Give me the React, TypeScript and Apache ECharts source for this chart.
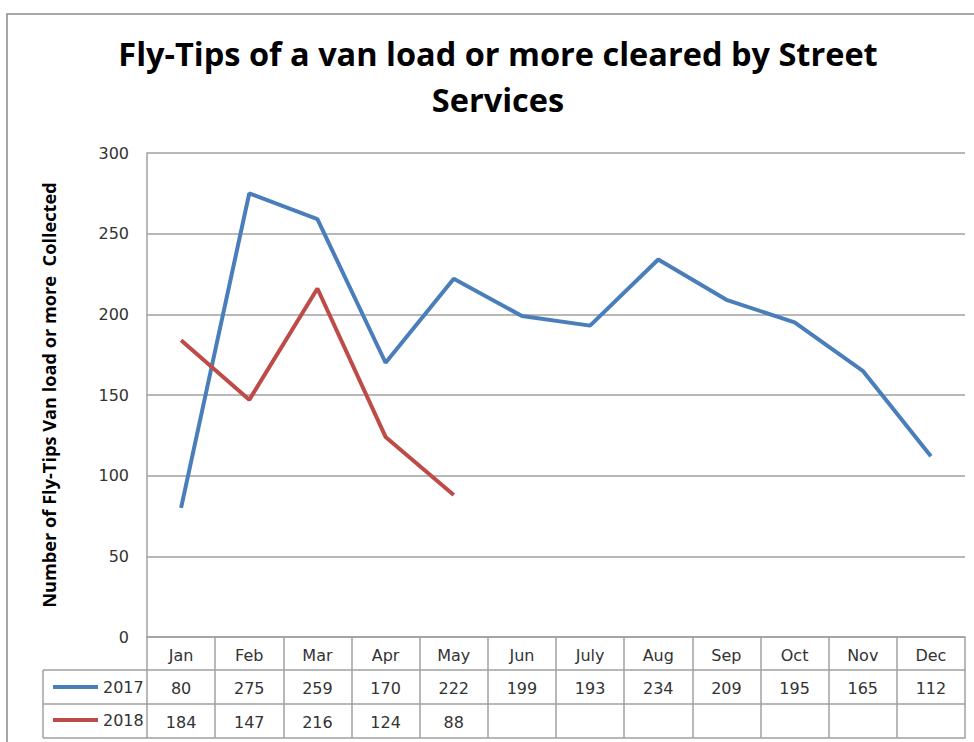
import React, { useEffect, useRef } from 'react';
import * as echarts from 'echarts';

const months = ['Jan', 'Feb', 'Mar', 'Apr', 'May', 'Jun', 'July', 'Aug', 'Sep', 'Oct', 'Nov', 'Dec'];
const values2017 = [80, 275, 259, 170, 222, 199, 193, 234, 209, 195, 165, 112];
const values2018: (number | null)[] = [184, 147, 216, 124, 88, null, null, null, null, null, null, null];
const seriesNames = ['2017', '2018'];
const yMin = 0;
const yMax = 300;
const yInterval = 50;
const titleText = 'Fly-Tips of a van load or more cleared by Street\nServices';
const yAxisName = 'Number of Fly-Tips Van load or more  Collected';

const BLUE = '#4a7ebb';
const RED = '#be4b48';
const GRID_C = '#a0a0a0';
const TXT = '#333333';
const BODY_FONT = 'DejaVu Sans';
const HEAD_FONT = 'Open Sans';

export default function App() {
  const ref = useRef<HTMLDivElement>(null);
  useEffect(() => {
    if (!ref.current) return;
    const chart = echarts.init(ref.current, undefined, { renderer: 'svg' });
    const W = 974, H = 742;
    const gLeft = 147, gRight = 9, gTop = 153, gBottom = 637;
    const rowA = 33, rowB = 34, rowC = 34;
    const tableLeft = 43;
    const baseLabel = { fontFamily: BODY_FONT, fontSize: 16, color: TXT, margin: 10 };
    const lineStyle = { color: GRID_C, width: 1.5 };
    chart.setOption({
      animation: false,
      backgroundColor: '#ffffff',
      title: {
        text: titleText,
        left: 493,
        top: 25,
        textAlign: 'center',
        textStyle: { fontFamily: HEAD_FONT, fontWeight: 'bold', fontSize: 32.5, lineHeight: 46, color: '#000' },
      },
      legend: {
        data: seriesNames,
        orient: 'vertical',
        left: 48,
        top: 673,
        icon: 'rect',
        itemWidth: 45,
        itemHeight: 4,
        itemGap: 15,
        selectedMode: false,
        textStyle: { fontFamily: BODY_FONT, fontSize: 16, lineHeight: 18, color: TXT },
      },
      grid: { left: gLeft, right: gRight, top: gTop, bottom: H - gBottom, containLabel: false },
      xAxis: [
        {
          type: 'category', data: months, position: 'bottom', offset: 0, boundaryGap: true,
          axisLine: { show: true, lineStyle }, axisTick: { show: true, interval: 0, length: rowA, lineStyle },
          axisLabel: { ...baseLabel, interval: 0 },
        },
        {
          type: 'category', data: values2017.map((v) => String(v)), position: 'bottom', offset: rowA, boundaryGap: true,
          axisLine: { show: true, lineStyle }, axisTick: { show: true, interval: 0, length: rowB, lineStyle },
          axisLabel: { ...baseLabel, interval: 0 },
        },
        {
          type: 'category', data: values2018.map((v) => (v == null ? '' : String(v))), position: 'bottom', offset: rowA + rowB, boundaryGap: true,
          axisLine: { show: true, lineStyle }, axisTick: { show: true, interval: 0, length: rowC, lineStyle },
          axisLabel: { ...baseLabel, interval: 0 },
        },
        {
          type: 'category', data: months, position: 'bottom', offset: rowA + rowB + rowC, boundaryGap: true,
          axisLine: { show: true, lineStyle }, axisTick: { show: false }, axisLabel: { show: false },
        },
      ],
      yAxis: {
        type: 'value', min: yMin, max: yMax, interval: yInterval,
        name: yAxisName, nameLocation: 'middle', nameGap: 89,
        nameTextStyle: { fontFamily: HEAD_FONT, fontWeight: 'bold', fontSize: 18.2, color: '#000' },
        axisLine: { show: true, lineStyle }, axisTick: { show: false },
        axisLabel: { fontFamily: BODY_FONT, fontSize: 16, color: TXT, margin: 18 },
        splitLine: { show: true, lineStyle: { color: GRID_C, width: 1.5 } },
      },
      series: [
        { name: seriesNames[0], type: 'line', data: values2017, xAxisIndex: 0, symbol: 'none', lineStyle: { color: BLUE, width: 4 }, itemStyle: { color: BLUE } },
        { name: seriesNames[1], type: 'line', data: values2018, xAxisIndex: 0, symbol: 'none', lineStyle: { color: RED, width: 4 }, itemStyle: { color: RED } },
      ],
      graphic: [
        { type: 'rect', shape: { x: 7, y: 14, width: W + 50, height: H + 50 }, style: { fill: 'none', stroke: '#8a8a8a', lineWidth: 1.5 }, silent: true },
        { type: 'line', shape: { x1: tableLeft, y1: gBottom + rowA, x2: gLeft, y2: gBottom + rowA }, style: { stroke: GRID_C, lineWidth: 1.5 } },
        { type: 'line', shape: { x1: tableLeft, y1: gBottom + rowA + rowB, x2: gLeft, y2: gBottom + rowA + rowB }, style: { stroke: GRID_C, lineWidth: 1.5 } },
        { type: 'line', shape: { x1: tableLeft, y1: gBottom + rowA + rowB + rowC, x2: gLeft, y2: gBottom + rowA + rowB + rowC }, style: { stroke: GRID_C, lineWidth: 1.5 } },
        { type: 'line', shape: { x1: tableLeft, y1: gBottom + rowA, x2: tableLeft, y2: gBottom + rowA + rowB + rowC }, style: { stroke: GRID_C, lineWidth: 1.5 } },
      ],
    });
    return () => chart.dispose();
  }, []);
  return <div ref={ref} style={{ position: 'fixed', left: 0, top: 0, width: 974, height: 742 }} />;
}
